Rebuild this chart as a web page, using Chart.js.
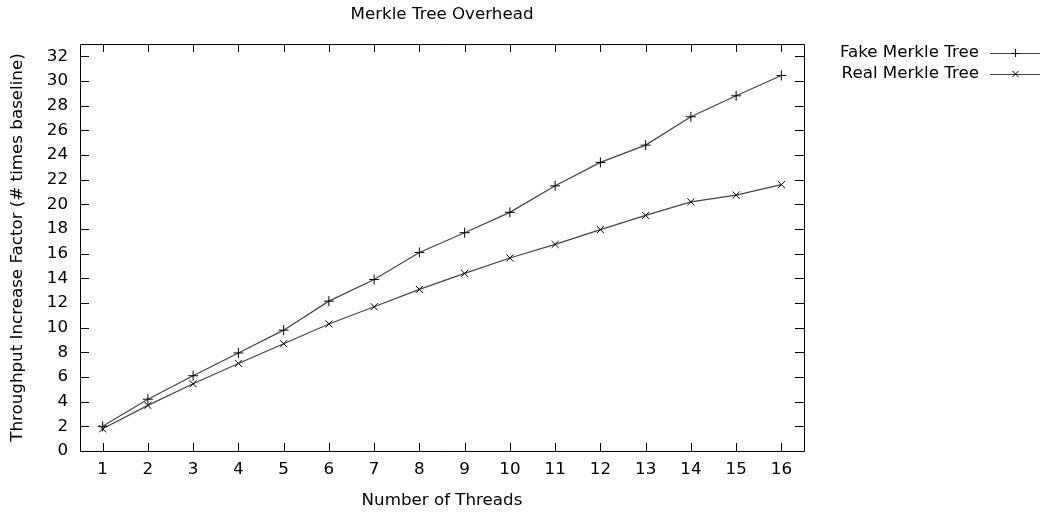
<!DOCTYPE html>
<html>
<head>
<meta charset="utf-8">
<script src="https://cdn.jsdelivr.net/npm/chart.js@4/dist/chart.umd.min.js"></script>
<style>
  html, body { margin: 0; padding: 0; background: #fff; }
  #wrap { width: 1040px; height: 513px; }
</style>
</head>
<body>
<div id="wrap"><canvas id="c"></canvas></div>
<script>
// datos
const threads = [1, 2, 3, 4, 5, 6, 7, 8, 9, 10, 11, 12, 13, 14, 15, 16];
const fakeTree = [2.0, 4.2, 6.1, 7.95, 9.8, 12.15, 13.9, 16.1, 17.7, 19.35, 21.5, 23.4, 24.8, 27.1, 28.8, 30.45];
const realTree = [1.8, 3.7, 5.45, 7.1, 8.7, 10.3, 11.7, 13.1, 14.4, 15.65, 16.75, 17.95, 19.1, 20.2, 20.75, 21.6];
const yTicks = [0, 2, 4, 6, 8, 10, 12, 14, 16, 18, 20, 22, 24, 26, 28, 30, 32];
const seriesNames = ['Fake Merkle Tree', 'Real Merkle Tree'];

const FONT = 'DejaVu Sans';
const FSIZE = 16.7;
const lineCol = '#444';

const toPoints = vals => vals.map((v, i) => ({ x: threads[i], y: v }));

// marco, ticks hacia adentro, titulo y leyenda estilo gnuplot
const gnuplotFrame = {
  id: 'gnuplotFrame',
  afterDraw(chart) {
    const ctx = chart.ctx;
    const a = chart.chartArea;
    const xs = chart.scales.x, ys = chart.scales.y;
    ctx.save();
    ctx.strokeStyle = '#000';
    ctx.lineWidth = 1;
    ctx.beginPath();
    ctx.rect(Math.round(a.left) + 0.5, Math.round(a.top) + 0.5, Math.round(a.right - a.left), Math.round(a.bottom - a.top));
    ctx.stroke();
    ctx.beginPath();
    threads.forEach(t => {
      const px = Math.round(xs.getPixelForValue(t)) + 0.5;
      ctx.moveTo(px, a.bottom); ctx.lineTo(px, a.bottom - 8);
      ctx.moveTo(px, a.top); ctx.lineTo(px, a.top + 8);
    });
    yTicks.forEach(t => {
      const py = Math.round(ys.getPixelForValue(t)) + 0.5;
      ctx.moveTo(a.left, py); ctx.lineTo(a.left + 9, py);
      ctx.moveTo(a.right, py); ctx.lineTo(a.right - 9, py);
    });
    ctx.stroke();

    ctx.fillStyle = '#000';
    ctx.font = FSIZE + 'px "' + FONT + '"';
    ctx.textAlign = 'center';
    ctx.textBaseline = 'middle';
    ctx.fillText('Merkle Tree Overhead', (a.left + a.right) / 2, 15);

    // leyenda
    ctx.textAlign = 'right';
    const rows = [53, 74];
    seriesNames.forEach((name, i) => {
      const y = rows[i];
      ctx.fillStyle = '#000';
      ctx.fillText(name, 979, y);
      ctx.strokeStyle = lineCol;
      ctx.beginPath();
      ctx.moveTo(990, y + 0.5); ctx.lineTo(1040, y + 0.5);
      ctx.stroke();
      ctx.strokeStyle = '#000';
      ctx.beginPath();
      const mx = 1015.5, r = 4;
      if (i === 0) {
        ctx.moveTo(mx, y - r); ctx.lineTo(mx, y + r);
        ctx.moveTo(mx - r, y + 0.5); ctx.lineTo(mx + r, y + 0.5);
      } else {
        ctx.moveTo(mx - 3, y - 3); ctx.lineTo(mx + 3, y + 3);
        ctx.moveTo(mx - 3, y + 3); ctx.lineTo(mx + 3, y - 3);
      }
      ctx.stroke();
    });
    ctx.restore();
  }
};

new Chart(document.getElementById('c'), {
  type: 'line',
  data: {
    datasets: [
      {
        label: seriesNames[0],
        data: toPoints(fakeTree),
        borderColor: lineCol,
        borderWidth: 1.2,
        pointStyle: 'cross',
        pointRadius: 5,
        pointBorderColor: '#000',
        pointBorderWidth: 1,
        fill: false,
        tension: 0
      },
      {
        label: seriesNames[1],
        data: toPoints(realTree),
        borderColor: lineCol,
        borderWidth: 1.2,
        pointStyle: 'crossRot',
        pointRadius: 5,
        pointBorderColor: '#000',
        pointBorderWidth: 1,
        fill: false,
        tension: 0
      }
    ]
  },
  options: {
    responsive: true,
    maintainAspectRatio: false,
    animation: false,
    layout: { padding: { top: 44, right: 236, left: 8, bottom: 0 } },
    plugins: {
      legend: { display: false },
      title: { display: false },
      tooltip: { enabled: false }
    },
    scales: {
      x: {
        type: 'linear',
        min: 0.5,
        max: 16.5,
        afterBuildTicks: s => { s.ticks = threads.map(v => ({ value: v })); },
        afterFit: s => { s.height = 62; },
        grid: { display: false, drawTicks: false },
        border: { display: false },
        ticks: { color: '#000', font: { family: FONT, size: FSIZE }, padding: 9, maxRotation: 0 },
        title: { display: true, text: 'Number of Threads', color: '#000', font: { family: FONT, size: FSIZE }, padding: { top: 10, bottom: 2 } }
      },
      y: {
        type: 'linear',
        min: 0,
        max: 33,
        afterBuildTicks: s => { s.ticks = yTicks.map(v => ({ value: v })); },
        afterFit: s => { s.width = 72; },
        grid: { display: false, drawTicks: false },
        border: { display: false },
        ticks: { color: '#000', font: { family: FONT, size: FSIZE }, padding: 12 },
        title: { display: true, text: 'Throughput Increase Factor (# times baseline)', color: '#000', font: { family: FONT, size: FSIZE }, padding: 0 }
      }
    }
  },
  plugins: [gnuplotFrame]
});
</script>
</body>
</html>
